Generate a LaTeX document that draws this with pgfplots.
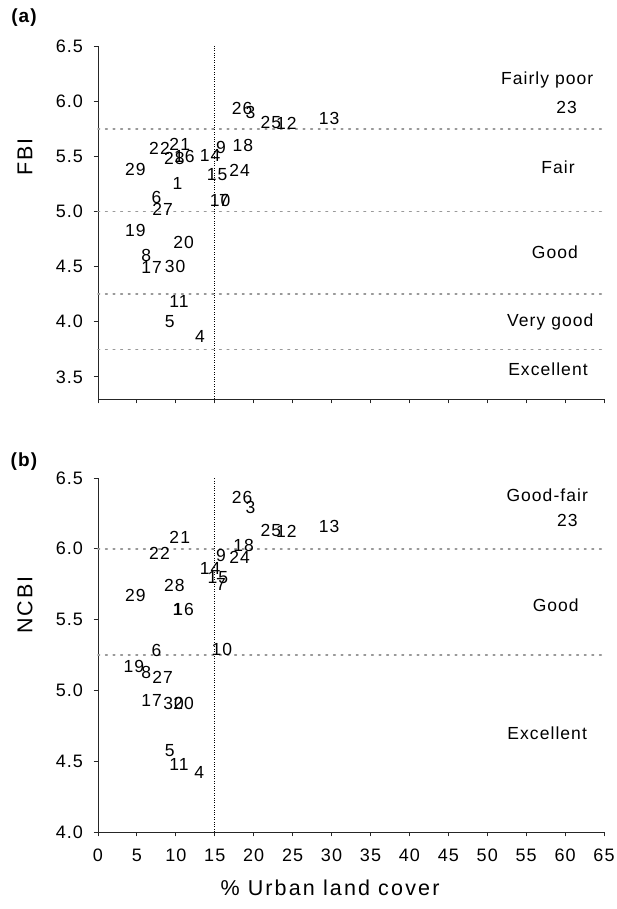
\documentclass[border=0pt]{standalone}
\usepackage{fontspec}
\setmainfont{Liberation Sans}[LetterSpace=6]
\usepackage{pgfplots}
\usepackage{pgfplotstable}
\pgfplotsset{compat=1.18}

\pgfplotstableread{
x y l
10.2 5.25 1
19.6 5.90 3
13.1 3.87 4
9.2 4.00 5
7.5 5.13 6
16.2 5.10 7
6.2 4.60 8
15.8 5.58 9
15.7 5.10 10
10.4 4.18 11
24.2 5.80 12
29.7 5.84 13
14.4 5.51 14
15.3 5.33 15
11.1 5.50 16
6.9 4.49 17
18.6 5.60 18
4.8 4.83 19
11.0 4.72 20
10.5 5.61 21
7.9 5.575 22
60.2 5.94 23
18.2 5.37 24
22.2 5.81 25
18.5 5.93 26
8.3 5.02 27
9.8 5.48 28
4.8 5.385 29
9.9 4.50 30
}\dataA

\pgfplotstableread{
x y l
10.2 5.57 1
19.6 6.29 3
13.0 4.42 4
9.2 4.575 5
7.5 5.28 6
15.8 5.75 7
6.2 5.125 8
15.8 5.95 9
15.9 5.29 10
10.4 4.475 11
24.2 6.12 12
29.7 6.16 13
14.4 5.86 14
15.4 5.80 15
11.0 5.57 16
6.9 4.93 17
18.7 6.02 18
4.6 5.17 19
11.0 4.91 20
10.5 6.08 21
7.9 5.97 22
60.3 6.20 23
18.2 5.94 24
22.2 6.13 25
18.5 6.36 26
8.3 5.09 27
9.8 5.74 28
4.8 5.67 29
9.7 4.91 30
}\dataB

\newcommand{\lab}{\fontsize{17.5}{17.5}\selectfont}
\newcommand{\tlab}{\fontsize{18}{18}\selectfont}
\newcommand{\axl}{\fontsize{21.5}{21.5}\selectfont\addfontfeatures{LetterSpace=10}}

\pgfplotsset{
  panel/.style={
    scale only axis, width=506pt, anchor=south west,
    xmin=0, xmax=65, xtick={0,5,...,65},
    axis x line=bottom, axis y line=left,
    axis line style={-, line width=0.9pt, black!85},
    tick align=outside, major tick length=4.5pt,
    tick style={line width=0.9pt, black!85},
    clip=false,
    /pgf/number format/assume math mode=true,
    ticklabel style={font=\tlab},
    yticklabel style={xshift=-7pt, /pgf/number format/.cd, fixed, fixed zerofill, precision=1},
    xticklabel style={yshift=-9pt},
  },
  hl/.style={gray!80, line width=1.6pt, dash pattern=on 1.6pt off 6pt, line cap=round, forget plot},
  vl/.style={black, line width=0.8pt, dash pattern=on 0.8pt off 1.6pt, forget plot},
  labs/.style={draw=none, mark=none, nodes near coords, point meta=explicit symbolic,
    every node near coord/.append style={anchor=center, inner sep=0pt, font=\lab, text=black}},
}

\begin{document}
\begin{tikzpicture}
\path[use as bounding box] (0,0) rectangle (617pt,909pt);

\begin{axis}[panel, at={(98pt,510pt)}, height=353pt,
  ymin=3.3, ymax=6.5, ytick={3.5,4.0,...,6.5}, xticklabels={}]
  \addplot[hl] coordinates {(0,5.75) (65,5.75)};
  \addplot[hl] coordinates {(0,5.0) (65,5.0)};
  \addplot[hl] coordinates {(0,4.25) (65,4.25)};
  \addplot[hl] coordinates {(0,3.75) (65,3.75)};
  \addplot[vl] coordinates {(15,3.3) (15,6.5)};
  \addplot[labs] table[x=x, y=y, meta=l] {\dataA};
  \node[font=\lab] at (axis cs:57.7,6.19) {Fairly poor};
  \node[font=\lab] at (axis cs:59.1,5.40) {Fair};
  \node[font=\lab] at (axis cs:58.7,4.63) {Good};
  \node[font=\lab] at (axis cs:58.1,3.995) {Very good};
  \node[font=\lab] at (axis cs:57.8,3.57) {Excellent};
\end{axis}

\begin{axis}[panel, at={(98pt,77pt)}, height=354pt,
  ymin=4.0, ymax=6.5, ytick={4.0,4.5,...,6.5}]
  \addplot[hl] coordinates {(0,6.0) (65,6.0)};
  \addplot[hl] coordinates {(0,5.25) (65,5.25)};
  \addplot[vl] coordinates {(15,4.0) (15,6.5)};
  \addplot[labs] table[x=x, y=y, meta=l] {\dataB};
  \node[font=\lab] at (axis cs:57.7,6.376) {Good-fair};
  \node[font=\lab] at (axis cs:58.8,5.60) {Good};
  \node[font=\lab] at (axis cs:57.7,4.695) {Excellent};
\end{axis}

\node[font=\axl, rotate=90] at (25pt,752pt) {FBI};
\node[font=\axl, rotate=90] at (25pt,304pt) {NCBI};
\node[font=\axl] at (330pt,21pt) {\% Urban land cover};
\node[font=\bfseries\fontsize{19}{19}\selectfont] at (24pt,891pt) {(a)};
\node[font=\bfseries\fontsize{19}{19}\selectfont] at (24pt,447pt) {(b)};
\end{tikzpicture}
\end{document}
